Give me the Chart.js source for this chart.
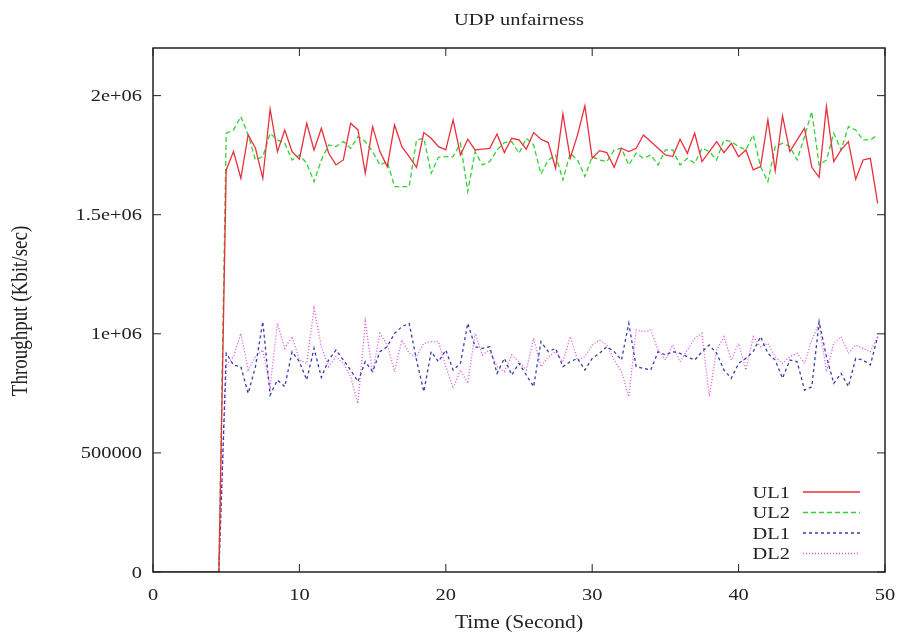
<!DOCTYPE html>
<html>
<head>
<meta charset="utf-8">
<title>UDP unfairness</title>
<script src="https://cdn.jsdelivr.net/npm/chart.js@4.4.1/dist/chart.umd.min.js"></script>
<style>
  html, body { margin: 0; padding: 0; background: #fff; }
  canvas { display: block; }
</style>
</head>
<body>
<canvas id="chart" width="900" height="633"></canvas>
<script>
// time (Second), one sample every half second
const times = [0, 0.5, 1, 1.5, 2, 2.5, 3, 3.5, 4, 4.5,
  5, 5.5, 6, 6.5, 7, 7.5, 8, 8.5, 9, 9.5, 10, 10.5, 11, 11.5, 12, 12.5, 13, 13.5, 14, 14.5,
  15, 15.5, 16, 16.5, 17, 17.5, 18, 18.5, 19, 19.5, 20, 20.5, 21, 21.5, 22, 22.5, 23, 23.5, 24, 24.5,
  25, 25.5, 26, 26.5, 27, 27.5, 28, 28.5, 29, 29.5, 30, 30.5, 31, 31.5, 32, 32.5, 33, 33.5, 34, 34.5,
  35, 35.5, 36, 36.5, 37, 37.5, 38, 38.5, 39, 39.5, 40, 40.5, 41, 41.5, 42, 42.5, 43, 43.5, 44, 44.5,
  45, 45.5, 46, 46.5, 47, 47.5, 48, 48.5, 49, 49.5]

// throughput (Kbit/sec)
const ul1 = [0, 0, 0, 0, 0, 0, 0, 0, 0, 0,
  1688000, 1765000, 1653000, 1835000, 1779000, 1653000, 1943000, 1765000, 1856000, 1765000,
  1733000, 1884000, 1772000, 1863000, 1758000, 1709000, 1730000, 1884000, 1856000, 1674000,
  1870000, 1765000, 1702000, 1877000, 1786000, 1744000, 1699000, 1845000, 1821000, 1786000,
  1772000, 1898000, 1751000, 1817000, 1772000, 1775000, 1779000, 1839000, 1761000, 1821000,
  1814000, 1775000, 1845000, 1817000, 1803000, 1695000, 1923000, 1737000, 1835000, 1957000,
  1737000, 1769000, 1761000, 1699000, 1779000, 1765000, 1779000, 1835000, 1807000, 1779000,
  1751000, 1744000, 1817000, 1758000, 1842000, 1723000, 1765000, 1807000, 1761000, 1800000,
  1744000, 1772000, 1688000, 1702000, 1898000, 1685000, 1915000, 1765000, 1814000, 1863000,
  1699000, 1657000, 1954000, 1723000, 1772000, 1807000, 1649000, 1730000, 1737000, 1548000]

const ul2 = [0, 0, 0, 0, 0, 0, 0, 0, 0, 0,
  1842000, 1856000, 1912000, 1835000, 1730000, 1744000, 1842000, 1814000, 1800000, 1730000,
  1751000, 1716000, 1639000, 1730000, 1793000, 1786000, 1807000, 1779000, 1828000, 1807000,
  1765000, 1709000, 1723000, 1618000, 1618000, 1618000, 1814000, 1821000, 1674000, 1741000,
  1744000, 1744000, 1800000, 1597000, 1765000, 1709000, 1723000, 1772000, 1803000, 1807000,
  1758000, 1821000, 1793000, 1671000, 1730000, 1751000, 1646000, 1758000, 1730000, 1660000,
  1744000, 1730000, 1723000, 1772000, 1779000, 1709000, 1758000, 1737000, 1751000, 1709000,
  1772000, 1772000, 1709000, 1737000, 1716000, 1779000, 1765000, 1730000, 1814000, 1807000,
  1786000, 1772000, 1835000, 1702000, 1639000, 1786000, 1800000, 1786000, 1730000, 1828000,
  1933000, 1709000, 1730000, 1842000, 1772000, 1870000, 1856000, 1814000, 1814000, 1835000]

const dl1 = [0, 0, 0, 0, 0, 0, 0, 0, 0, 0,
  918000, 869000, 862000, 750000, 862000, 1051000, 743000, 806000, 778000, 925000,
  883000, 806000, 939000, 817000, 890000, 932000, 890000, 848000, 799000, 883000,
  841000, 925000, 946000, 1002000, 1030000, 1044000, 890000, 757000, 925000, 883000,
  932000, 848000, 876000, 1044000, 946000, 939000, 946000, 834000, 897000, 827000,
  876000, 827000, 778000, 967000, 925000, 939000, 862000, 883000, 897000, 848000,
  897000, 918000, 946000, 925000, 890000, 1044000, 862000, 855000, 848000, 925000,
  911000, 925000, 918000, 904000, 890000, 925000, 953000, 918000, 848000, 813000,
  876000, 897000, 925000, 988000, 918000, 890000, 813000, 890000, 883000, 764000,
  778000, 1051000, 904000, 792000, 834000, 778000, 897000, 890000, 869000, 988000]

const dl2 = [0, 0, 0, 0, 0, 0, 0, 0, 0, 0,
  869000, 904000, 1002000, 848000, 904000, 932000, 778000, 1044000, 939000, 988000,
  890000, 876000, 1107000, 946000, 862000, 904000, 876000, 820000, 708000, 1051000,
  834000, 1002000, 953000, 841000, 974000, 918000, 904000, 960000, 967000, 967000,
  862000, 771000, 848000, 792000, 1002000, 911000, 932000, 862000, 841000, 911000,
  883000, 848000, 981000, 862000, 904000, 925000, 883000, 988000, 890000, 904000,
  953000, 974000, 953000, 890000, 841000, 736000, 1016000, 1009000, 1016000, 932000,
  890000, 953000, 883000, 932000, 981000, 1002000, 736000, 932000, 988000, 890000,
  960000, 848000, 988000, 946000, 960000, 904000, 876000, 904000, 918000, 876000,
  974000, 1044000, 841000, 960000, 988000, 918000, 953000, 939000, 925000, 988000]

const seriesNames = ["UL1", "UL2", "DL1", "DL2"]
const seriesValues = [ul1, ul2, dl1, dl2]
const seriesColors = ["#e8303c", "#34d034", "#3a3aa8", "#e050e0"]
const seriesDashes = [[], [5, 3], [3, 3], [1, 2]]

const xTickValues = [0, 10, 20, 30, 40, 50]
const yTickValues = [0, 500000, 1000000, 1500000, 2000000]
const yTickLabels = ["0", "500000", "1e+06", "1.5e+06", "2e+06"]

const FONT = "'Liberation Serif', 'DejaVu Serif', serif"
const TEXT = "#222"
const STRETCH = 1.2 // the source image is widened, text included

var datasets = []
for (let i = 0; i < seriesValues.length; i++) {
  datasets.push({
    label: seriesNames[i],
    data: times.map((t, j) => ({ x: t, y: seriesValues[i][j] })),
    borderColor: seriesColors[i],
    borderWidth: 1.3,
    borderDash: seriesDashes[i],
    pointRadius: 0,
    tension: 0,
    fill: false
  })
}

function wideText(ctx, text, x, y, align, size, rotate) {
  ctx.save()
  ctx.font = size + "px " + FONT
  ctx.fillStyle = TEXT
  ctx.textAlign = align
  ctx.textBaseline = "alphabetic"
  ctx.translate(x, y)
  ctx.scale(STRETCH, 1)
  if (rotate) ctx.rotate(-Math.PI / 2)
  ctx.fillText(text, 0, 0)
  ctx.restore()
}

// gnuplot look: framed box, inward ticks on all sides, key bottom right
const gnuplotFrame = {
  id: "gnuplotFrame",
  afterDatasetsDraw(chart) {
    const { ctx, chartArea: a, scales } = chart
    const x = scales.x
    const y = scales.y
    ctx.save()
    ctx.strokeStyle = "#222"
    ctx.lineWidth = 1.5
    ctx.setLineDash([])
    ctx.strokeRect(a.left, a.top, a.right - a.left, a.bottom - a.top)

    const tl = 8
    ctx.lineWidth = 1
    ctx.beginPath()
    x.ticks.forEach(t => {
      const px = x.getPixelForValue(t.value)
      ctx.moveTo(px, a.bottom); ctx.lineTo(px, a.bottom - tl)
      ctx.moveTo(px, a.top); ctx.lineTo(px, a.top + tl)
    })
    y.ticks.forEach(t => {
      const py = y.getPixelForValue(t.value)
      ctx.moveTo(a.left, py); ctx.lineTo(a.left + tl, py)
      ctx.moveTo(a.right, py); ctx.lineTo(a.right - tl, py)
    })
    ctx.stroke()
    ctx.restore()

    // tick labels
    x.ticks.forEach(t => {
      wideText(ctx, String(t.value), x.getPixelForValue(t.value), a.bottom + 28, "center", 17)
    })
    y.ticks.forEach(t => {
      const lbl = yTickLabels[yTickValues.indexOf(t.value)]
      wideText(ctx, lbl, a.left - 11, y.getPixelForValue(t.value) + 5.5, "right", 17)
    })

    // key
    chart.data.datasets.forEach((ds, i) => {
      const ry = 492 + i * 20.5
      wideText(ctx, ds.label, 790, ry + 5.5, "right", 17)
      ctx.save()
      ctx.strokeStyle = ds.borderColor
      ctx.lineWidth = 1.3
      ctx.setLineDash(ds.borderDash)
      ctx.beginPath()
      ctx.moveTo(803, ry)
      ctx.lineTo(860, ry)
      ctx.stroke()
      ctx.restore()
    })

    // titles
    const cx = (a.left + a.right) / 2
    wideText(ctx, "UDP unfairness", cx, 25, "center", 17)
    wideText(ctx, "Time (Second)", cx, 628, "center", 18)
    wideText(ctx, "Throughput (Kbit/sec)", 27, (a.top + a.bottom) / 2 + 1, "center", 19, true)
  }
}

const chart = new Chart(document.getElementById("chart"), {
  type: "line",
  data: { datasets: datasets },
  options: {
    responsive: false,
    animation: false,
    events: [],
    layout: { padding: { top: 48, right: 15, left: 0, bottom: 0 } },
    plugins: {
      legend: { display: false },
      tooltip: { enabled: false },
      title: { display: false }
    },
    scales: {
      x: {
        type: "linear",
        min: 0,
        max: 50,
        border: { display: false },
        grid: { display: false, drawTicks: false },
        afterBuildTicks: s => { s.ticks = xTickValues.map(v => ({ value: v })) },
        ticks: { display: false },
        afterFit: s => { s.height = 61 }
      },
      y: {
        type: "linear",
        min: 0,
        max: 2200000,
        border: { display: false },
        grid: { display: false, drawTicks: false },
        afterBuildTicks: s => { s.ticks = yTickValues.map(v => ({ value: v })) },
        ticks: { display: false },
        afterFit: s => { s.width = 153 }
      }
    }
  },
  plugins: [gnuplotFrame]
})
</script>
</body>
</html>
